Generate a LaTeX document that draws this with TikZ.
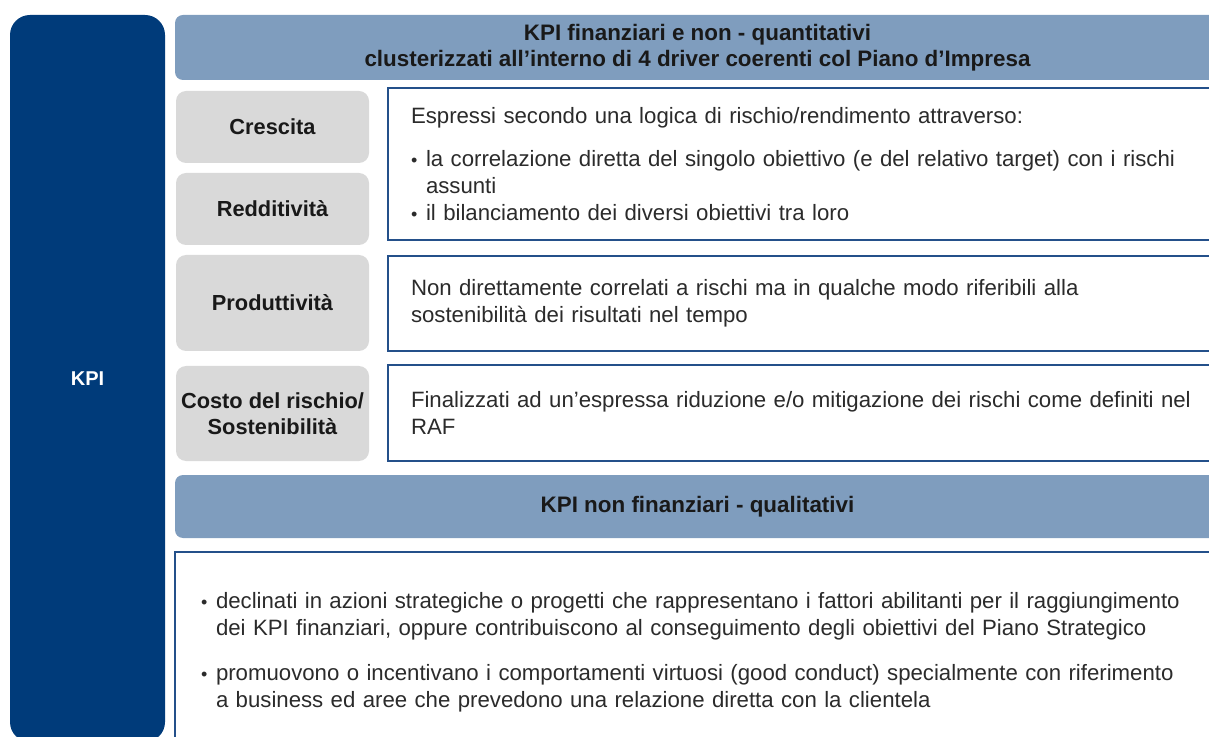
\documentclass[tikz,border=0pt]{standalone}
\usepackage{fontspec}
\setmainfont{Liberation Sans}
\usepackage{tikz}

\definecolor{kpinavy}{HTML}{003B7A}
\definecolor{headblue}{HTML}{7F9DBE}
\definecolor{drivergray}{HTML}{D9D9D9}
\definecolor{frameblue}{HTML}{24508A}
\definecolor{bodytext}{HTML}{2B2B2B}

\newcommand{\blt}{\makebox[7.5pt][l]{\fontsize{9}{9}\selectfont\textbullet}}

\tikzset{
  kpibar/.style={fill=kpinavy, rounded corners=10pt, text=white,
    font=\bfseries\fontsize{10}{13}\selectfont},
  header/.style={fill=headblue, rounded corners=4pt, align=center,
    text=black!90, font=\bfseries\fontsize{11.2}{13}\selectfont},
  driver/.style={fill=drivergray, rounded corners=5pt, minimum width=96.5pt,
    inner xsep=0pt, align=center, text=black!90,
    font=\bfseries\fontsize{10.9}{13}\selectfont},
  descr/.style={draw=frameblue, line width=1pt, fill=white, align=left,
    text width=420pt, inner xsep=11.5pt, text=bodytext,
    font=\fontsize{11.1}{13.5}\selectfont},
}

\begin{document}
\begin{tikzpicture}[x=0.5pt, y=-0.5pt]
    \useasboundingbox (0,0) rectangle (1209,737);
    \clip (0,0) rectangle (1209,737);

    % left bar
    \node[kpibar, minimum width=77.5pt, minimum height=363.5pt] (kpi) at (87.5,378.5) {KPI};

    % quantitative part
    \node[header, minimum width=522.5pt, minimum height=32.5pt] (quanthead) at (697.5,47.5)
        {KPI finanziari e non - quantitativi\\
         clusterizzati all’interno di 4 driver coerenti col Piano d’Impresa};

    \node[driver, minimum height=36pt] (crescita) at (272.5,127) {Crescita};
    \node[driver, minimum height=36pt] (redditivita) at (272.5,209) {Redditività};
    \node[driver, minimum height=48pt] (produttivita) at (272.5,303) {Produttività};
    \node[driver, minimum height=47.5pt] (costo) at (272.5,413.5) {Costo del rischio/\\Sostenibilità};

    \node[descr, minimum height=76pt] (rischio) at (831,164)
        {Espressi secondo una logica di rischio/rendimento attraverso:\\[8pt]
         \blt la correlazione diretta del singolo obiettivo (e del relativo target) con i rischi\\
         \hspace*{7.5pt}assunti\\
         \blt il bilanciamento dei diversi obiettivi tra loro};
    \node[descr, minimum height=47.5pt] (sostenib) at (831,303.5)
        {Non direttamente correlati a rischi ma in qualche modo riferibili alla\\
         sostenibilità dei risultati nel tempo};
    \node[descr, minimum height=48pt] (mitigaz) at (831,413)
        {Finalizzati ad un’espressa riduzione e/o mitigazione dei rischi come definiti nel\\
         RAF};

    % qualitative part
    \node[header, minimum width=522.5pt, minimum height=31.5pt] (qualhead) at (697.5,506.5)
        {KPI non finanziari - qualitativi};
    \node[descr, text width=520pt, inner xsep=13pt, minimum height=100pt] (qualbox) at (721,652)
        {\blt declinati in azioni strategiche o progetti che rappresentano i fattori abilitanti per il raggiungimento\\
         \hspace*{7.5pt}dei KPI finanziari, oppure contribuiscono al conseguimento degli obiettivi del Piano Strategico\\[9pt]
         \blt promuovono o incentivano i comportamenti virtuosi (good conduct) specialmente con riferimento\\
         \hspace*{7.5pt}a business ed aree che prevedono una relazione diretta con la clientela};
\end{tikzpicture}
\end{document}
